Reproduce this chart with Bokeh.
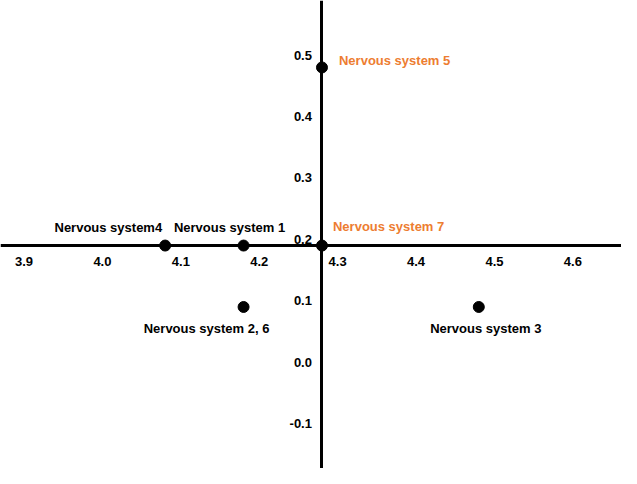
from bokeh.plotting import figure
from bokeh.models import ColumnDataSource, SingleIntervalTicker, PrintfTickFormatter, Range1d
from bokeh.core.properties import value
from bokeh.embed import file_html
from bokeh.resources import INLINE

# ---- data ----
labels = ["Nervous system4", "Nervous system 1", "Nervous system 7",
          "Nervous system 5", "Nervous system 2, 6", "Nervous system 3"]
x_vals = [4.08, 4.18, 4.28, 4.28, 4.18, 4.48]
y_vals = [0.19, 0.19, 0.19, 0.48, 0.09, 0.09]
label_colors = ["#000000", "#000000", "#ED7D31", "#ED7D31", "#000000", "#000000"]
x_cross = 4.28
y_cross = 0.19

# ---- label layout (screen px offsets, alignment) ----
lab_dx = [-3, -14, 11, 17, -37, 7]
lab_dy = [-18, -18, -19, -7, 22, 22]
lab_align = ["right", "center", "left", "left", "center", "center"]

FONT = "Liberation Sans"

p = figure(width=621, height=468, output_backend="svg", toolbar_location=None,
           x_range=Range1d(3.870, 4.662), y_range=Range1d(-0.173, 0.589),
           min_border=0, min_border_left=0, min_border_right=0,
           min_border_top=0, min_border_bottom=0)
p.outline_line_color = None
p.grid.visible = False
p.background_fill_color = "white"
p.border_fill_color = "white"

for ax in (p.xaxis, p.yaxis):
    ax.axis_line_width = 3
    ax.axis_line_color = "black"
    ax.major_tick_line_color = None
    ax.minor_tick_line_color = None
    ax.major_tick_out = 0
    ax.major_tick_in = 0
    ax.major_label_text_font = FONT
    ax.major_label_text_font_style = "bold"
    ax.major_label_text_font_size = "13px"
    ax.major_label_text_color = "black"
    ax.ticker = SingleIntervalTicker(interval=0.1, num_minor_ticks=0)
    ax.formatter = PrintfTickFormatter(format="%.1f")

p.xaxis.fixed_location = y_cross
p.yaxis.fixed_location = x_cross
p.xaxis.major_label_standoff = 11
p.yaxis.major_label_standoff = 10

src = ColumnDataSource(dict(x=x_vals, y=y_vals))
p.scatter("x", "y", source=src, size=11, color="black")

for i in range(len(labels)):
    p.text(x=[x_vals[i]], y=[y_vals[i]], text=[labels[i]],
           x_offset=lab_dx[i], y_offset=lab_dy[i],
           text_align=lab_align[i], text_baseline="middle",
           text_font=value(FONT), text_font_style="bold", text_font_size="13px",
           text_color=label_colors[i])

open("out.html", "w").write(file_html(p, INLINE))
